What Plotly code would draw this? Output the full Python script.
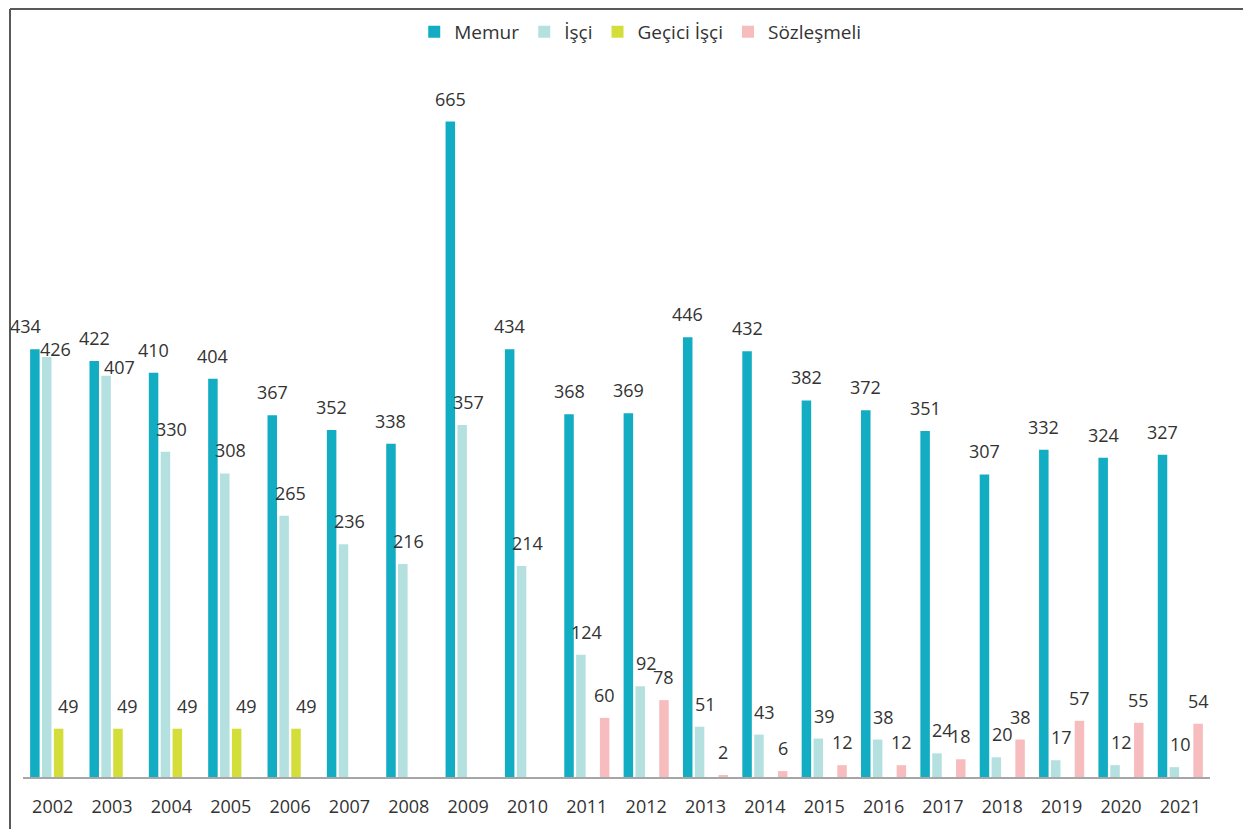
"""Personel sayıları 2002-2021 - grouped bar chart."""
import plotly.graph_objects as go

years = [str(y) for y in range(2002, 2022)]
memur = [434, 422, 410, 404, 367, 352, 338, 665, 434, 368,
         369, 446, 432, 382, 372, 351, 307, 332, 324, 327]
isci = [426, 407, 330, 308, 265, 236, 216, 357, 214, 124,
        92, 51, 43, 39, 38, 24, 20, 17, 12, 10]
gecici_isci = [49, 49, 49, 49, 49, None, None, None, None, None,
               None, None, None, None, None, None, None, None, None, None]
sozlesmeli = [None, None, None, None, None, None, None, None, None, 60,
              78, 2, 6, 12, 12, 18, 38, 57, 55, 54]

series = [
    ("Memur", memur, "#12adc2", 0),
    ("İşçi", isci, "#b5e0e0", 6),
    ("Geçici İşçi", gecici_isci, "#d3de3a", 10),
    ("Sözleşmeli", sozlesmeli, "#f7bcbd", 0),
]
# hand-moved labels in the original (series, year index) -> (dx, dy)
label_moves = {(0, 0): (-9, 23), (1, 0): (9, 8), (1, 1): (13, 9)}

FONT = "Open Sans"
TEXT_COLOR = "#333333"
# page has an 8px body margin, so the figure is a bit smaller than the window
OFF = 8
W, H = 1251 - OFF, 829 - OFF
# plot area in window pixels: x 23..1210, y 87..777
M_L = 23 - OFF
M_R = W - (1210 - OFF)
M_T = 87 - OFF
M_B = H - (777 - OFF)
BARGAP = 0.2

fig = go.Figure()
annotations = []
n = len(series)
for k, (name, vals, color, nudge) in enumerate(series):
    fig.add_trace(go.Bar(x=years, y=vals, name=name, marker_color=color,
                         marker_line_width=0))
    off = (k - (n - 1) / 2) * (1 - BARGAP) / n
    for i, v in enumerate(vals):
        if v is None:
            continue
        dx, dy = label_moves.get((k, i), (nudge, 23))
        annotations.append(dict(
            x=i + off, y=v, xref="x", yref="y", text=str(v),
            showarrow=False, yanchor="middle", yshift=dy, xshift=dx,
            font=dict(family=FONT, size=18, color=TEXT_COLOR),
        ))

pw = W - M_L - M_R
ph = H - M_T - M_B


def px_x(p):
    # window pixel -> paper fraction
    return (p - OFF - M_L) / pw


def px_y(p):
    return (H - M_B - (p - OFF)) / ph


shapes = [
    dict(type="line", xref="paper", yref="paper",
         x0=px_x(10), x1=px_x(1251), y0=px_y(9), y1=px_y(9),
         line=dict(color="#595959", width=2)),
    dict(type="line", xref="paper", yref="paper",
         x0=px_x(10), x1=px_x(10), y0=px_y(9), y1=px_y(829),
         line=dict(color="#595959", width=2)),
]

fig.update_layout(
    width=W, height=H,
    margin=dict(l=M_L, r=M_R, t=M_T, b=M_B, autoexpand=False),
    barmode="group", bargap=BARGAP, bargroupgap=0.2,
    plot_bgcolor="white", paper_bgcolor="white",
    font=dict(family=FONT, size=18, color=TEXT_COLOR),
    showlegend=True,
    legend=dict(orientation="h", x=0.52, xanchor="center", y=px_y(32),
                yanchor="middle", font=dict(size=19, color=TEXT_COLOR),
                itemclick=False, traceorder="normal"),
    xaxis=dict(type="category", range=[-0.5, len(years) - 0.5],
               autorange=False, showline=True, linecolor="#a6a6a6",
               linewidth=2, ticks="", showgrid=False,
               ticklabelstandoff=12,
               tickfont=dict(family=FONT, size=18, color=TEXT_COLOR)),
    yaxis=dict(range=[0, 700], visible=False, showgrid=False),
    annotations=annotations,
    shapes=shapes,
)

fig.write_html("out.html")
